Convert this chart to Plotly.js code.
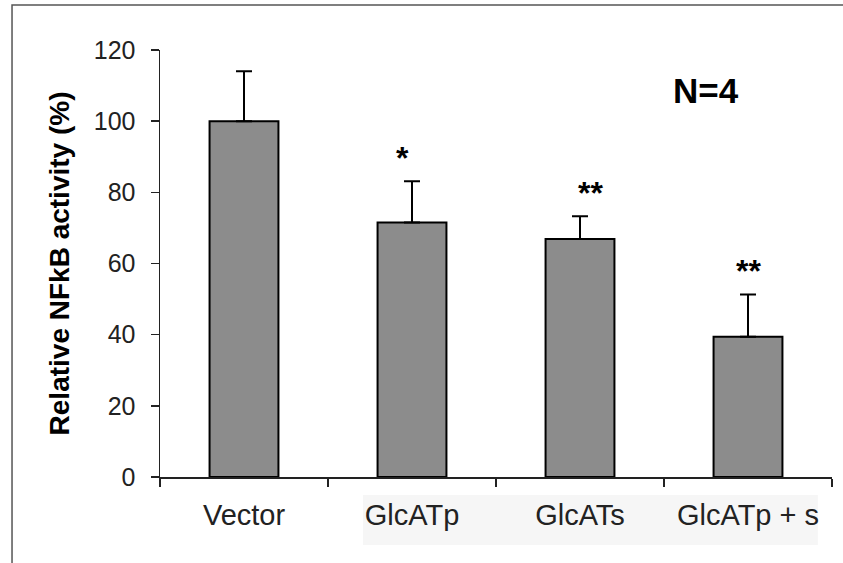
<!DOCTYPE html>
<html>
<head>
<meta charset="utf-8">
<script src="https://cdn.plot.ly/plotly-3.0.1.min.js"></script>
<style>html,body{margin:0;padding:0;background:#fff;}#chart{width:843px;height:563px;}</style>
</head>
<body>
<div id="chart"></div>
<script>
const categories = ["Vector", "GlcATp", "GlcATs", "GlcATp + s"];
const values = [100, 71.5, 66.9, 39.4];
const errors = [14, 11.6, 6.4, 11.9];
const significance = ["", "*", "**", "**"];
const yTicks = [0, 20, 40, 60, 80, 100, 120];
const sampleLabel = "N=4";

const FONT = "Arial, 'Liberation Sans', sans-serif";
const starShift = [0, -10, 10, 0];

const trace = {
  type: "bar",
  x: categories,
  y: values,
  width: 0.41,
  marker: {color: "#8c8c8c", line: {color: "#000", width: 2}},
  error_y: {type: "data", array: errors, arrayminus: errors.map(() => 0), symmetric: false,
            color: "#000", thickness: 2, width: 8},
  hoverinfo: "skip"
};

const annotations = categories.map((c, i) => ({
  x: c, y: values[i] + errors[i], xref: "x", yref: "y",
  text: "<b>" + significance[i] + "</b>", showarrow: false, xshift: starShift[i], yshift: 3,
  yanchor: "bottom", font: {family: FONT, size: 32, color: "#000"}, _s: significance[i]
})).filter(a => a._s).map(a => { delete a._s; return a; });

annotations.push({
  xref: "paper", yref: "paper", x: 0.8125, y: 0.906, text: "<b>" + sampleLabel + "</b>",
  showarrow: false, xanchor: "center", yanchor: "middle",
  font: {family: FONT, size: 35, color: "#000"}
});

const layout = {
  width: 843, height: 563,
  margin: {l: 160, r: 11, t: 50, b: 86},
  paper_bgcolor: "#fff", plot_bgcolor: "rgba(0,0,0,0)",
  showlegend: false,
  xaxis: {
    type: "category", tickson: "boundaries", ticks: "outside", ticklen: 8, tickwidth: 1.5,
    tickcolor: "#222", showline: true, linecolor: "#222", linewidth: 1.5,
    showgrid: false, zeroline: false, fixedrange: true,
    tickfont: {family: FONT, size: 29, color: "#222"}, ticklabelstandoff: 12
  },
  yaxis: {
    range: [0, 120], tickvals: yTicks, ticktext: yTicks.map(String),
    ticks: "outside", ticklen: 8, tickwidth: 1.5, tickcolor: "#222",
    showline: true, linecolor: "#222", linewidth: 1.5, showgrid: false, zeroline: false,
    tickfont: {family: FONT, size: 25, color: "#222"}, ticklabelstandoff: 10,
    title: {text: "<b>Relative NFkB activity (%)</b>", standoff: 16,
            font: {family: FONT, size: 28, color: "#000"}}
  },
  shapes: [
    {type: "rect", xref: "paper", yref: "paper", x0: 0.302, x1: 0.979, y0: -0.159, y1: -0.042,
     fillcolor: "#f6f6f6", line: {width: 0}, layer: "below"},
    {type: "rect", xref: "paper", yref: "paper", x0: -0.2202, x1: 1.03, y0: -0.25, y1: 1.1054,
     fillcolor: "rgba(0,0,0,0)", line: {color: "#555", width: 1.5}, layer: "below"}
  ],
  annotations: annotations
};

Plotly.newPlot("chart", [trace], layout, {displayModeBar: false, staticPlot: true});
</script>
</body>
</html>
